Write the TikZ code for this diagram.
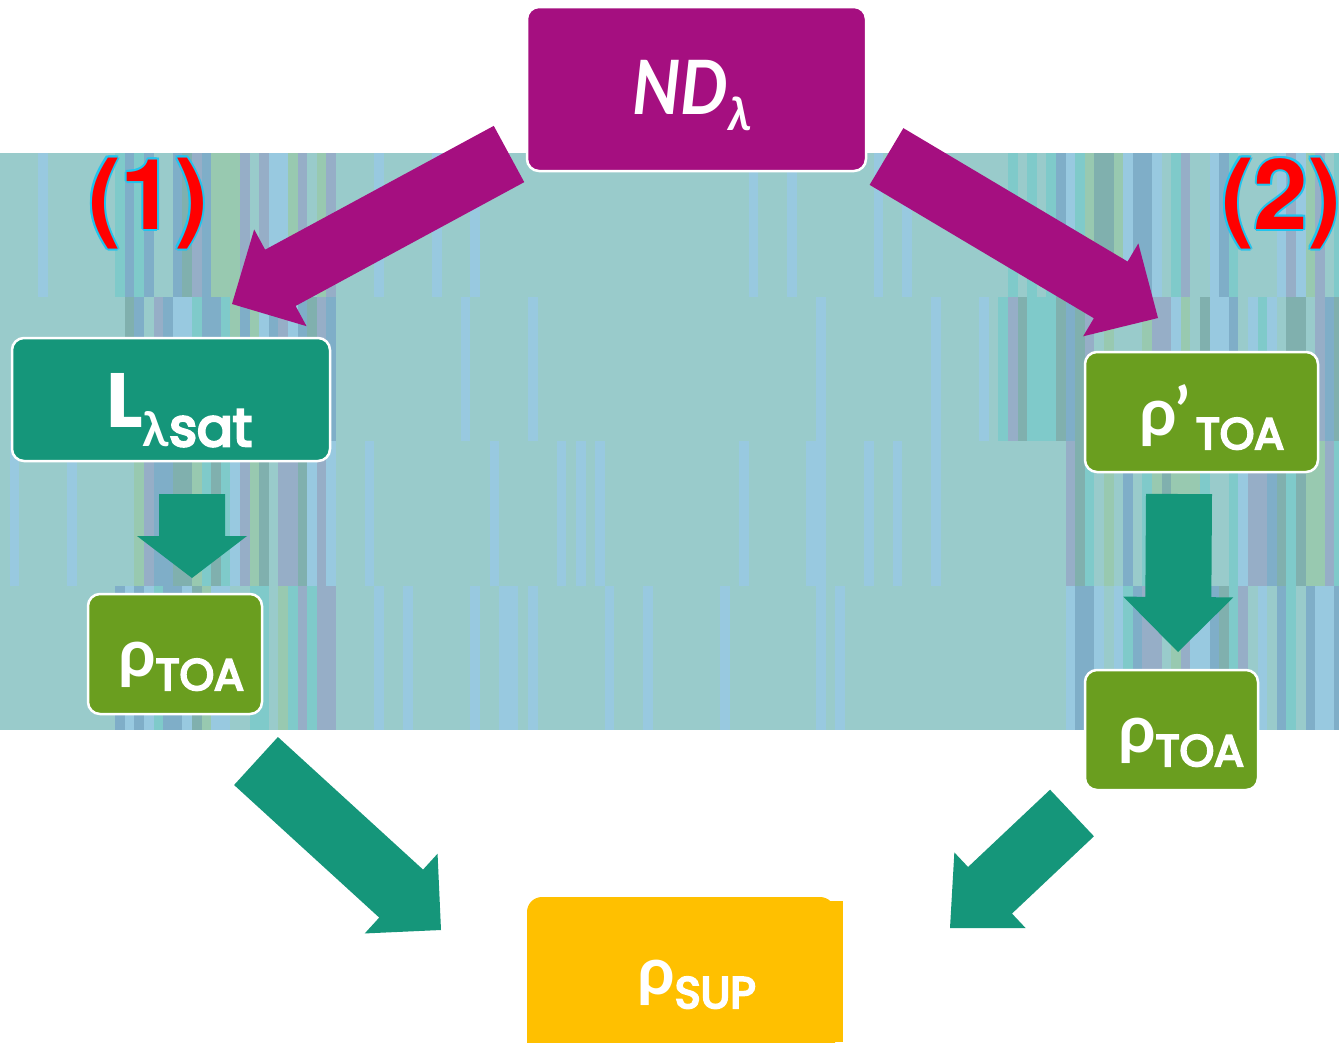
\documentclass[tikz,border=0pt]{standalone}
\usepackage{fontspec}
\usepackage{graphicx}
\setmainfont{Poppins}
\newfontfamily\greekf{Lato}
\newfontfamily\boxf{Poppins}[FakeBold=5]
\newfontfamily\labf{TeX Gyre Heros}
\usetikzlibrary{calc}

\definecolor{bandbase}{HTML}{99CBCB}
\definecolor{stripe1}{HTML}{98C9E0}
\definecolor{stripe2}{HTML}{96AEC7}
\definecolor{stripe3}{HTML}{7FCACA}
\definecolor{stripe4}{HTML}{80B0AE}
\definecolor{stripe5}{HTML}{98C9B0}
\definecolor{stripe6}{HTML}{7FAEC8}
\definecolor{magentabox}{HTML}{A50F80}
\definecolor{tealbox}{HTML}{15967A}
\definecolor{olivebox}{HTML}{6A9E1F}
\definecolor{goldbox}{HTML}{FFC000}
\definecolor{labelred}{HTML}{FF0000}
\definecolor{labeledge}{HTML}{20C4EE}

% block arrow: #1 tail, #2 tip, #3 shaft half-width, #4 head half-width, #5 head length, #6 colour
\newcommand\blockarrow[6]{%
  \path ($(#2)!#5pt!(#1)$) coordinate (hb);
  \fill[#6] ($(#1)!#3pt!90:(#2)$) -- ($(hb)!#3pt!90:(#2)$) -- ($(hb)!#4pt!90:(#2)$) -- (#2)
    -- ($(hb)!#4pt!-90:(#2)$) -- ($(hb)!#3pt!-90:(#2)$) -- ($(#1)!#3pt!-90:(#2)$) -- cycle;
}

% red text with a cyan rim
\newcommand\rimcopy[3]{\rlap{\kern#1\raisebox{#2}{\textcolor{labeledge}{#3}}}}
\newcommand\outl[1]{\leavevmode
  \rimcopy{2pt}{0pt}{#1}\rimcopy{-2pt}{0pt}{#1}%
  \rimcopy{0pt}{2pt}{#1}\rimcopy{0pt}{-2pt}{#1}%
  \rimcopy{1.4pt}{1.4pt}{#1}\rimcopy{-1.4pt}{1.4pt}{#1}%
  \rimcopy{1.4pt}{-1.4pt}{#1}\rimcopy{-1.4pt}{-1.4pt}{#1}%
  \textcolor{labelred}{#1}}

% a big rho followed by a lowered subscript
\newcommand\rhosub[1]{{\greekf\bfseries\fontsize{66}{66}\selectfont ρ}\raisebox{-14pt}{\boxf\fontsize{44}{44}\selectfont #1}}

\tikzset{
  box/.style={draw=white, line width=2.5pt, rounded corners=12pt, inner sep=0pt},
  txt/.style={text=white, inner sep=0pt, anchor=base west},
  lab/.style={inner sep=0pt, anchor=base, font=\labf\bfseries\fontsize{98}{98}\selectfont},
}

\begin{document}
\begin{tikzpicture}[x=1pt, y=-1pt]
\useasboundingbox (0,0) rectangle (1339,1042);
\clip (0,0) rectangle (1339,1042);
\fill[white] (0,0) rectangle (1339,1042);

% striped band
\fill[bandbase] (0,153) rectangle (1339,730);
\pgfmathsetseed{11}
\foreach \ya/\yb/\la/\lb/\ra in {153/297/110/335/1000, 297/441/120/330/990, 441/586/130/320/1060, 586/730/110/345/1075}{
  \foreach \i in {0,...,139}{
    \pgfmathsetmacro\xx{\i*9.6}
    \pgfmathtruncatemacro\dn{((\xx>=\la) && (\xx<=\lb)) || (\xx>=\ra) ? 1 : 0}
    \pgfmathsetmacro\pr{rnd}
    \pgfmathtruncatemacro\sc{\dn>0 ? (\pr<0.8 ? 1+int(\pr*7.49) : 0) : (\pr<0.09 ? 1 : 0)}
    \ifnum\sc>0
      \fill[color=stripe\sc] (\xx,\ya) rectangle (\xx+9.6,\yb);
    \fi
  }
}

% labels
\node[lab] (lab1) at (148,229) {\outl{(1)}};
\node[lab] (lab2) at (1281,229) {\outl{(2)}};

% arrows
\coordinate (a1tail) at (509,154);   \coordinate (a1tip) at (232,304);
\coordinate (a2tail) at (886.5,156.5); \coordinate (a2tip) at (1158,318);
\coordinate (a3tail) at (192,494);   \coordinate (a3tip) at (192,578);
\coordinate (a4tail) at (1179,494);  \coordinate (a4tip) at (1178,652);
\coordinate (a5tail) at (256,761);   \coordinate (a5tip) at (441,930);
\coordinate (a6tail) at (1072,813);  \coordinate (a6tip) at (950,928);
\blockarrow{a1tail}{a1tip}{32}{55}{55}{magentabox}
\blockarrow{a2tail}{a2tip}{33}{54}{55}{magentabox}
\blockarrow{a3tail}{a3tip}{33}{55}{42}{tealbox}
\blockarrow{a4tail}{a4tip}{33}{55}{55}{tealbox}
\blockarrow{a5tail}{a5tip}{32.5}{54}{54}{tealbox}
\blockarrow{a6tail}{a6tip}{32}{52}{55}{tealbox}

% boxes
\node[box, fill=magentabox, minimum width=339pt, minimum height=164pt] (nd) at (696.5,89) {};
\node[box, fill=tealbox, minimum width=318pt, minimum height=123pt] (lsat) at (171,399.5) {};
\node[box, fill=olivebox, minimum width=174pt, minimum height=120pt] (toa1) at (175,654) {};
\node[box, fill=olivebox, minimum width=233pt, minimum height=120pt] (toap) at (1201.5,412) {};
\node[box, fill=olivebox, minimum width=173pt, minimum height=120pt] (toa2) at (1171.5,730) {};
\node[fill=goldbox, rounded corners=15pt, inner sep=0pt, minimum width=308pt, minimum height=180pt] (psup) at (681,987) {};
\fill[goldbox] (815,901) rectangle (843,1042);

% box texts
\node[txt] (ndtext) at (632,114) {\scalebox{0.9}[1]{\greekf\bfseries\itshape\fontsize{75}{75}\selectfont ND}\raisebox{-16pt}{\greekf\bfseries\itshape\fontsize{46}{46}\selectfont λ}};
\node[txt] (lsattext) at (106,427) {{\bfseries\fontsize{77}{77}\selectfont L}\raisebox{-19pt}{{\greekf\bfseries\fontsize{48}{48}\selectfont λ}{\boxf\fontsize{53}{53}\selectfont sat}}};
\node[txt] (toa1text) at (118,676) {\rhosub{TOA}};
\node[txt] (toaptext) at (1139,435) {{\greekf\bfseries\fontsize{66}{66}\selectfont ρ’}\kern6pt\raisebox{-14pt}{\boxf\fontsize{44}{44}\selectfont TOA}};
\node[txt] (toa2text) at (1118,752) {\rhosub{TOA}};
\node[txt] (psuptext) at (637,994) {\rhosub{SUP}};
\end{tikzpicture}
\end{document}
